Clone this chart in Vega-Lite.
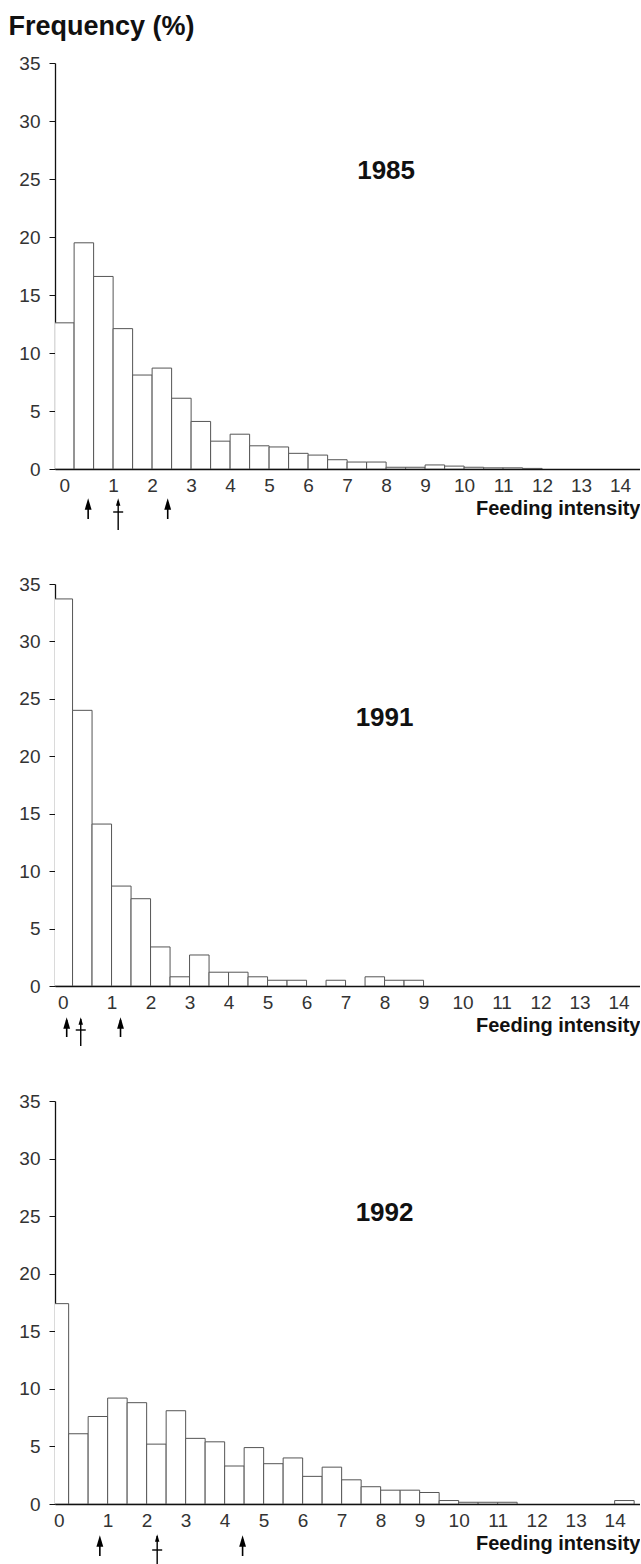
{
  "$schema": "https://vega.github.io/schema/vega-lite/v6.json",
  "background": "white",
  "padding": {"left": 8, "top": 12, "right": 0, "bottom": 0},
  "config": {
    "font": "Liberation Sans",
    "view": {"stroke": null},
    "axis": {
      "grid": false,
      "labelFont": "Liberation Sans",
      "labelFontSize": 19,
      "labelColor": "#333",
      "domainColor": "#111",
      "domainWidth": 1.3,
      "tickColor": "#111",
      "titleFont": "Liberation Sans",
      "titleColor": "#111"
    }
  },
  "datasets": {
    "bins": [
      {"year": 1985, "from": -0.5, "to": 0, "pct": 12.6},
      {"year": 1985, "from": 0, "to": 0.5, "pct": 19.5},
      {"year": 1985, "from": 0.5, "to": 1, "pct": 16.6},
      {"year": 1985, "from": 1, "to": 1.5, "pct": 12.1},
      {"year": 1985, "from": 1.5, "to": 2, "pct": 8.1},
      {"year": 1985, "from": 2, "to": 2.5, "pct": 8.7},
      {"year": 1985, "from": 2.5, "to": 3, "pct": 6.1},
      {"year": 1985, "from": 3, "to": 3.5, "pct": 4.1},
      {"year": 1985, "from": 3.5, "to": 4, "pct": 2.4},
      {"year": 1985, "from": 4, "to": 4.5, "pct": 3.0},
      {"year": 1985, "from": 4.5, "to": 5, "pct": 2.0},
      {"year": 1985, "from": 5, "to": 5.5, "pct": 1.9},
      {"year": 1985, "from": 5.5, "to": 6, "pct": 1.35},
      {"year": 1985, "from": 6, "to": 6.5, "pct": 1.2},
      {"year": 1985, "from": 6.5, "to": 7, "pct": 0.8},
      {"year": 1985, "from": 7, "to": 7.5, "pct": 0.6},
      {"year": 1985, "from": 7.5, "to": 8, "pct": 0.6},
      {"year": 1985, "from": 8, "to": 8.5, "pct": 0.15},
      {"year": 1985, "from": 8.5, "to": 9, "pct": 0.15},
      {"year": 1985, "from": 9, "to": 9.5, "pct": 0.35},
      {"year": 1985, "from": 9.5, "to": 10, "pct": 0.25},
      {"year": 1985, "from": 10, "to": 10.5, "pct": 0.15},
      {"year": 1985, "from": 10.5, "to": 11, "pct": 0.1},
      {"year": 1985, "from": 11, "to": 11.5, "pct": 0.1},
      {"year": 1985, "from": 11.5, "to": 12, "pct": 0.05},

      {"year": 1991, "from": -0.5, "to": 0, "pct": 33.7},
      {"year": 1991, "from": 0, "to": 0.5, "pct": 24.0},
      {"year": 1991, "from": 0.5, "to": 1, "pct": 14.1},
      {"year": 1991, "from": 1, "to": 1.5, "pct": 8.7},
      {"year": 1991, "from": 1.5, "to": 2, "pct": 7.6},
      {"year": 1991, "from": 2, "to": 2.5, "pct": 3.4},
      {"year": 1991, "from": 2.5, "to": 3, "pct": 0.8},
      {"year": 1991, "from": 3, "to": 3.5, "pct": 2.7},
      {"year": 1991, "from": 3.5, "to": 4, "pct": 1.2},
      {"year": 1991, "from": 4, "to": 4.5, "pct": 1.2},
      {"year": 1991, "from": 4.5, "to": 5, "pct": 0.8},
      {"year": 1991, "from": 5, "to": 5.5, "pct": 0.5},
      {"year": 1991, "from": 5.5, "to": 6, "pct": 0.5},
      {"year": 1991, "from": 6.5, "to": 7, "pct": 0.5},
      {"year": 1991, "from": 7.5, "to": 8, "pct": 0.8},
      {"year": 1991, "from": 8, "to": 8.5, "pct": 0.5},
      {"year": 1991, "from": 8.5, "to": 9, "pct": 0.5},

      {"year": 1992, "from": -0.5, "to": 0, "pct": 17.4},
      {"year": 1992, "from": 0, "to": 0.5, "pct": 6.1},
      {"year": 1992, "from": 0.5, "to": 1, "pct": 7.6},
      {"year": 1992, "from": 1, "to": 1.5, "pct": 9.2},
      {"year": 1992, "from": 1.5, "to": 2, "pct": 8.8},
      {"year": 1992, "from": 2, "to": 2.5, "pct": 5.2},
      {"year": 1992, "from": 2.5, "to": 3, "pct": 8.1},
      {"year": 1992, "from": 3, "to": 3.5, "pct": 5.7},
      {"year": 1992, "from": 3.5, "to": 4, "pct": 5.4},
      {"year": 1992, "from": 4, "to": 4.5, "pct": 3.3},
      {"year": 1992, "from": 4.5, "to": 5, "pct": 4.9},
      {"year": 1992, "from": 5, "to": 5.5, "pct": 3.5},
      {"year": 1992, "from": 5.5, "to": 6, "pct": 4.0},
      {"year": 1992, "from": 6, "to": 6.5, "pct": 2.4},
      {"year": 1992, "from": 6.5, "to": 7, "pct": 3.2},
      {"year": 1992, "from": 7, "to": 7.5, "pct": 2.1},
      {"year": 1992, "from": 7.5, "to": 8, "pct": 1.5},
      {"year": 1992, "from": 8, "to": 8.5, "pct": 1.2},
      {"year": 1992, "from": 8.5, "to": 9, "pct": 1.2},
      {"year": 1992, "from": 9, "to": 9.5, "pct": 1.0},
      {"year": 1992, "from": 9.5, "to": 10, "pct": 0.3},
      {"year": 1992, "from": 10, "to": 10.5, "pct": 0.15},
      {"year": 1992, "from": 10.5, "to": 11, "pct": 0.15},
      {"year": 1992, "from": 11, "to": 11.5, "pct": 0.15},
      {"year": 1992, "from": 14, "to": 14.5, "pct": 0.3}
    ],
    "stats": [
      {"year": 1985, "at": 0.36, "kind": "quartile"},
      {"year": 1985, "at": 1.13, "kind": "median"},
      {"year": 1985, "at": 2.40, "kind": "quartile"},
      {"year": 1991, "at": -0.15, "kind": "quartile"},
      {"year": 1991, "at": 0.21, "kind": "median"},
      {"year": 1991, "at": 1.23, "kind": "quartile"},
      {"year": 1992, "at": 0.80, "kind": "quartile"},
      {"year": 1992, "at": 2.27, "kind": "median"},
      {"year": 1992, "at": 4.46, "kind": "quartile"}
    ],
    "years": [
      {"year": "1985"},
      {"year": "1991"},
      {"year": "1992"}
    ]
  },
  "bounds": "flush",
  "spacing": 115,
  "vconcat": [
    {
      "width": 585,
      "height": 406,
      "layer": [
        {
          "data": {"name": "bins"},
          "transform": [{"filter": "datum.year === 1985"}],
          "mark": {"type": "bar", "fill": "white", "stroke": "#555", "strokeWidth": 1, "clip": true},
          "encoding": {
            "x": {
              "field": "from", "type": "quantitative",
              "scale": {"domain": [-0.49, 14.51], "nice": false, "zero": false},
              "axis": {
                "values": [-0.25, 1, 2, 3, 4, 5, 6, 7, 8, 9, 10, 11, 12, 13, 14],
                "labelExpr": "datum.value < 0 ? '0' : datum.label",
                "ticks": false, "tickSize": 0, "labelPadding": 7,
                "labelFlush": false, "labelOverlap": false,
                "title": "Feeding intensity", "titleFontSize": 20, "titleFontWeight": "bold",
                "titleAnchor": "end", "titleAlign": "right", "titleBaseline": "alphabetic", "titleY": 45
              }
            },
            "x2": {"field": "to"},
            "y": {
              "field": "pct", "type": "quantitative",
              "scale": {"domain": [0, 35], "nice": false},
              "axis": {
                "values": [0, 5, 10, 15, 20, 25, 30, 35],
                "tickSize": 6, "labelPadding": 9,
                "title": "Frequency (%)", "titleAngle": 0, "titleAlign": "left", "titleBaseline": "top",
                "titleX": -47, "titleY": -50, "titleFontSize": 27, "titleFontWeight": "bold"
              }
            },
            "y2": {"datum": 0}
          }
        },
        {
          "data": {"name": "stats"},
          "transform": [{"filter": "datum.year === 1985 && datum.kind === 'quartile'"}],
          "mark": {"type": "rule", "stroke": "black", "strokeWidth": 1.6, "yOffset": 33, "y2Offset": 50},
          "encoding": {"x": {"field": "at", "type": "quantitative"}, "y": {"datum": 0}, "y2": {"datum": 0}}
        },
        {
          "data": {"name": "stats"},
          "transform": [{"filter": "datum.year === 1985 && datum.kind === 'median'"}],
          "mark": {"type": "rule", "stroke": "black", "strokeWidth": 1.4, "yOffset": 32, "y2Offset": 61},
          "encoding": {"x": {"field": "at", "type": "quantitative"}, "y": {"datum": 0}, "y2": {"datum": 0}}
        },
        {
          "data": {"name": "stats"},
          "transform": [{"filter": "datum.year === 1985 && datum.kind === 'median'"}],
          "mark": {"type": "rule", "stroke": "black", "strokeWidth": 1.4, "xOffset": -5, "x2Offset": 5, "yOffset": 43},
          "encoding": {"x": {"field": "at", "type": "quantitative"}, "x2": {"field": "at"}, "y": {"datum": 0}}
        },
        {
          "data": {"name": "stats"},
          "transform": [{"filter": "datum.year === 1985 && datum.kind === 'quartile'"}],
          "mark": {"type": "point", "shape": "M0,-1L0.6,1L-0.6,1Z", "filled": true, "color": "black", "opacity": 1, "size": 130, "yOffset": 35},
          "encoding": {"x": {"field": "at", "type": "quantitative"}, "y": {"datum": 0}}
        },
        {
          "data": {"name": "stats"},
          "transform": [{"filter": "datum.year === 1985 && datum.kind === 'median'"}],
          "mark": {"type": "point", "shape": "M0,-1L0.6,1L-0.6,1Z", "filled": true, "color": "black", "opacity": 1, "size": 55, "yOffset": 33},
          "encoding": {"x": {"field": "at", "type": "quantitative"}, "y": {"datum": 0}}
        },
        {
          "data": {"name": "years"},
          "transform": [{"filter": "datum.year === '1985'"}],
          "mark": {"type": "text", "font": "Liberation Sans", "fontSize": 26, "fontWeight": "bold", "color": "#111", "align": "center", "baseline": "middle"},
          "encoding": {"text": {"field": "year", "type": "nominal"}, "x": {"datum": 8.0}, "y": {"datum": 25.7}}
        }
      ]
    },
    {
      "width": 585,
      "height": 402,
      "layer": [
        {
          "data": {"name": "bins"},
          "transform": [{"filter": "datum.year === 1991"}],
          "mark": {"type": "bar", "fill": "white", "stroke": "#555", "strokeWidth": 1, "clip": true},
          "encoding": {
            "x": {
              "field": "from", "type": "quantitative",
              "scale": {"domain": [-0.45, 14.55], "nice": false, "zero": false},
              "axis": {
                "values": [-0.25, 1, 2, 3, 4, 5, 6, 7, 8, 9, 10, 11, 12, 13, 14],
                "labelExpr": "datum.value < 0 ? '0' : datum.label",
                "ticks": false, "tickSize": 0, "labelPadding": 7,
                "labelFlush": false, "labelOverlap": false,
                "title": "Feeding intensity", "titleFontSize": 20, "titleFontWeight": "bold",
                "titleAnchor": "end", "titleAlign": "right", "titleBaseline": "alphabetic", "titleY": 45
              }
            },
            "x2": {"field": "to"},
            "y": {
              "field": "pct", "type": "quantitative",
              "scale": {"domain": [0, 35], "nice": false},
              "axis": {"values": [0, 5, 10, 15, 20, 25, 30, 35], "tickSize": 6, "labelPadding": 9, "title": null}
            },
            "y2": {"datum": 0}
          }
        },
        {
          "data": {"name": "stats"},
          "transform": [{"filter": "datum.year === 1991 && datum.kind === 'quartile'"}],
          "mark": {"type": "rule", "stroke": "black", "strokeWidth": 1.6, "yOffset": 34, "y2Offset": 51},
          "encoding": {"x": {"field": "at", "type": "quantitative"}, "y": {"datum": 0}, "y2": {"datum": 0}}
        },
        {
          "data": {"name": "stats"},
          "transform": [{"filter": "datum.year === 1991 && datum.kind === 'median'"}],
          "mark": {"type": "rule", "stroke": "black", "strokeWidth": 1.4, "yOffset": 33, "y2Offset": 60},
          "encoding": {"x": {"field": "at", "type": "quantitative"}, "y": {"datum": 0}, "y2": {"datum": 0}}
        },
        {
          "data": {"name": "stats"},
          "transform": [{"filter": "datum.year === 1991 && datum.kind === 'median'"}],
          "mark": {"type": "rule", "stroke": "black", "strokeWidth": 1.4, "xOffset": -5, "x2Offset": 5, "yOffset": 44},
          "encoding": {"x": {"field": "at", "type": "quantitative"}, "x2": {"field": "at"}, "y": {"datum": 0}}
        },
        {
          "data": {"name": "stats"},
          "transform": [{"filter": "datum.year === 1991 && datum.kind === 'quartile'"}],
          "mark": {"type": "point", "shape": "M0,-1L0.6,1L-0.6,1Z", "filled": true, "color": "black", "opacity": 1, "size": 130, "yOffset": 37},
          "encoding": {"x": {"field": "at", "type": "quantitative"}, "y": {"datum": 0}}
        },
        {
          "data": {"name": "stats"},
          "transform": [{"filter": "datum.year === 1991 && datum.kind === 'median'"}],
          "mark": {"type": "point", "shape": "M0,-1L0.6,1L-0.6,1Z", "filled": true, "color": "black", "opacity": 1, "size": 55, "yOffset": 35},
          "encoding": {"x": {"field": "at", "type": "quantitative"}, "y": {"datum": 0}}
        },
        {
          "data": {"name": "years"},
          "transform": [{"filter": "datum.year === '1991'"}],
          "mark": {"type": "text", "font": "Liberation Sans", "fontSize": 26, "fontWeight": "bold", "color": "#111", "align": "center", "baseline": "middle"},
          "encoding": {"text": {"field": "year", "type": "nominal"}, "x": {"datum": 8.0}, "y": {"datum": 23.3}}
        }
      ]
    },
    {
      "width": 585,
      "height": 403,
      "layer": [
        {
          "data": {"name": "bins"},
          "transform": [{"filter": "datum.year === 1992"}],
          "mark": {"type": "bar", "fill": "white", "stroke": "#555", "strokeWidth": 1, "clip": true},
          "encoding": {
            "x": {
              "field": "from", "type": "quantitative",
              "scale": {"domain": [-0.35, 14.65], "nice": false, "zero": false},
              "axis": {
                "values": [-0.25, 1, 2, 3, 4, 5, 6, 7, 8, 9, 10, 11, 12, 13, 14],
                "labelExpr": "datum.value < 0 ? '0' : datum.label",
                "ticks": false, "tickSize": 0, "labelPadding": 7,
                "labelFlush": false, "labelOverlap": false,
                "title": "Feeding intensity", "titleFontSize": 20, "titleFontWeight": "bold",
                "titleAnchor": "end", "titleAlign": "right", "titleBaseline": "alphabetic", "titleY": 45
              }
            },
            "x2": {"field": "to"},
            "y": {
              "field": "pct", "type": "quantitative",
              "scale": {"domain": [0, 35], "nice": false},
              "axis": {"values": [0, 5, 10, 15, 20, 25, 30, 35], "tickSize": 6, "labelPadding": 9, "title": null}
            },
            "y2": {"datum": 0}
          }
        },
        {
          "data": {"name": "stats"},
          "transform": [{"filter": "datum.year === 1992 && datum.kind === 'quartile'"}],
          "mark": {"type": "rule", "stroke": "black", "strokeWidth": 1.6, "yOffset": 35, "y2Offset": 52},
          "encoding": {"x": {"field": "at", "type": "quantitative"}, "y": {"datum": 0}, "y2": {"datum": 0}}
        },
        {
          "data": {"name": "stats"},
          "transform": [{"filter": "datum.year === 1992 && datum.kind === 'median'"}],
          "mark": {"type": "rule", "stroke": "black", "strokeWidth": 1.4, "yOffset": 32, "y2Offset": 62},
          "encoding": {"x": {"field": "at", "type": "quantitative"}, "y": {"datum": 0}, "y2": {"datum": 0}}
        },
        {
          "data": {"name": "stats"},
          "transform": [{"filter": "datum.year === 1992 && datum.kind === 'median'"}],
          "mark": {"type": "rule", "stroke": "black", "strokeWidth": 1.4, "xOffset": -5, "x2Offset": 5, "yOffset": 46},
          "encoding": {"x": {"field": "at", "type": "quantitative"}, "x2": {"field": "at"}, "y": {"datum": 0}}
        },
        {
          "data": {"name": "stats"},
          "transform": [{"filter": "datum.year === 1992 && datum.kind === 'quartile'"}],
          "mark": {"type": "point", "shape": "M0,-1L0.6,1L-0.6,1Z", "filled": true, "color": "black", "opacity": 1, "size": 130, "yOffset": 37},
          "encoding": {"x": {"field": "at", "type": "quantitative"}, "y": {"datum": 0}}
        },
        {
          "data": {"name": "stats"},
          "transform": [{"filter": "datum.year === 1992 && datum.kind === 'median'"}],
          "mark": {"type": "point", "shape": "M0,-1L0.6,1L-0.6,1Z", "filled": true, "color": "black", "opacity": 1, "size": 55, "yOffset": 34},
          "encoding": {"x": {"field": "at", "type": "quantitative"}, "y": {"datum": 0}}
        },
        {
          "data": {"name": "years"},
          "transform": [{"filter": "datum.year === '1992'"}],
          "mark": {"type": "text", "font": "Liberation Sans", "fontSize": 26, "fontWeight": "bold", "color": "#111", "align": "center", "baseline": "middle"},
          "encoding": {"text": {"field": "year", "type": "nominal"}, "x": {"datum": 8.1}, "y": {"datum": 25.3}}
        }
      ]
    }
  ]
}
